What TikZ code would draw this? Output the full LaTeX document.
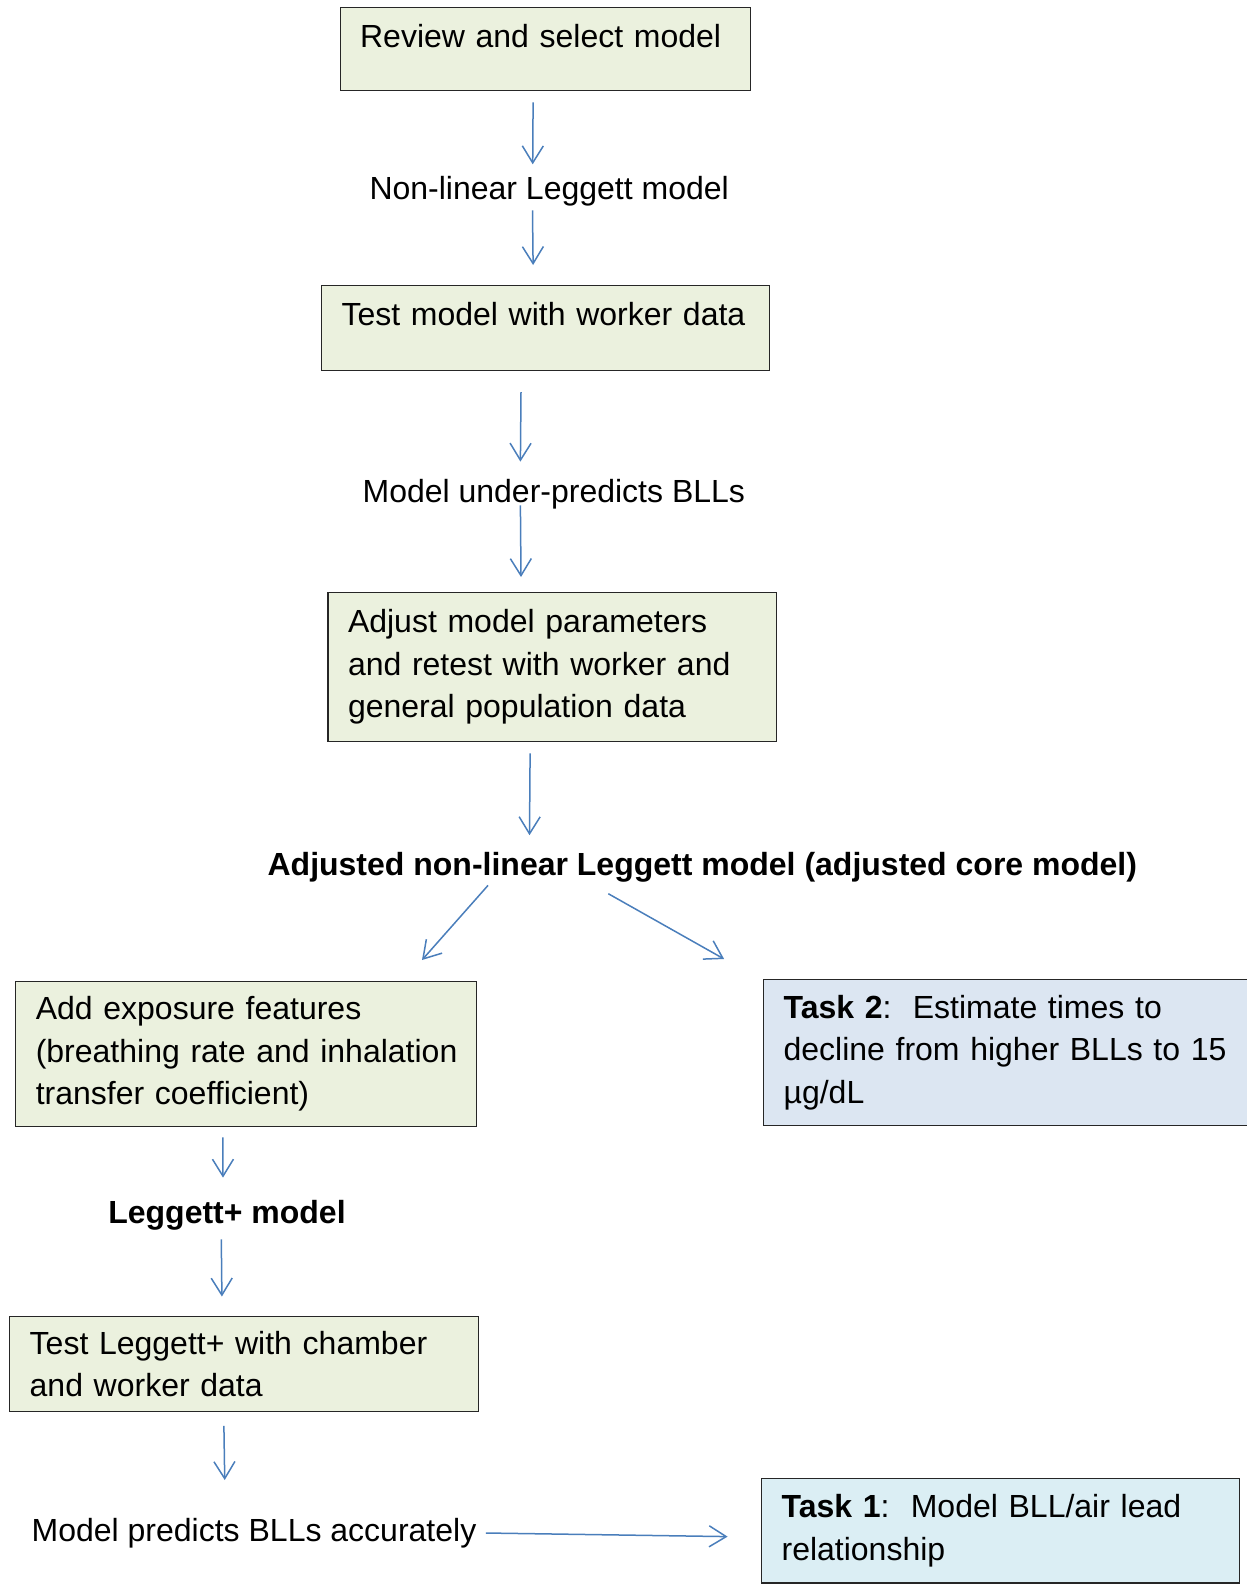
\documentclass[tikz,border=0pt]{standalone}
\usepackage{fontspec}
\setmainfont{Liberation Sans}
\usetikzlibrary{arrows.meta}
\definecolor{boxgreen}{RGB}{235,241,222}
\definecolor{boxblue}{RGB}{220,230,242}
\definecolor{boxcyan}{RGB}{219,238,244}
\definecolor{arrowblue}{RGB}{74,126,187}
\begin{document}
\begin{tikzpicture}[x=0.5pt,y=-0.5pt,
    font=\fontsize{16}{21.2}\selectfont,
    box/.style={draw=black!85,line width=0.6pt,fill=boxgreen,anchor=north west,
      align=left,inner xsep=10pt,inner ysep=4pt},
    topbox/.style={box,inner ysep=8.1pt,text height=11.6pt},
    lbl/.style={inner sep=0pt,text height=11.5pt,text depth=3.5pt},
    arr/.style={draw=arrowblue,line width=0.75pt,-{Straight Barb[length=8.5pt,width=10.5pt]}}]
    \useasboundingbox (0,0) rectangle (1247,1585);
    % main line
    \node[topbox,text width=185pt,text depth=13.7pt] (review) at (339.5,7.1) {Review and select model};
    \node[lbl] (nonlin) at (549.2,191) {Non-linear Leggett model};
    \node[topbox,text width=204pt,text depth=14.7pt] (test) at (321,285) {Test model with worker data};
    \node[lbl] (under) at (553.8,494) {Model under-predicts BLLs};
    \node[box,text width=204.3pt,minimum height=74.4pt] (adjust) at (327.4,592)
      {Adjust model parameters\\and retest with worker and\\general population data};
    \node[lbl,font=\fontsize{16}{21.2}\selectfont\bfseries] (core) at (702.3,867)
      {Adjusted non-linear Leggett model (adjusted core model)};
    % left branch
    \node[box,text width=210.4pt,minimum height=72.4pt] (addexp) at (15.2,981)
      {Add exposure features\\\mbox{(breathing rate and inhalation}\\transfer coefficient)};
    \node[lbl,font=\fontsize{16}{21.2}\selectfont\bfseries] (leggett) at (227,1215.6) {Leggett+ model};
    \node[box,text width=214.5pt,minimum height=47.5pt] (testplus) at (9.1,1315.7)
      {Test Leggett+ with chamber\\and worker data};
    \node[lbl,anchor=west] (predicts) at (31.3,1533) {Model predicts BLLs accurately};
    % tasks
    \node[box,fill=boxblue,text width=222.5pt,minimum height=73pt] (task2) at (763,979)
      {\textbf{Task 2}:\ \ Estimate times to\\decline from higher BLLs to 15\\µg/dL};
    \node[box,fill=boxcyan,text width=219pt,minimum height=52.2pt] (task1) at (761,1478)
      {\textbf{Task 1}:\ \ Model BLL/air lead\\relationship};
    % arrows
    \foreach \a/\xa/\sa/\b/\xb/\sb in {review/-6/-5.5/nonlin/-8.25/5.65,
        nonlin/-8.35/-2/test/-6.25/10, test/-12.3/-10.5/under/-16.7/8.5,
        under/-16.7/2/adjust/-15.65/7.5, adjust/-11.1/-5.65/core/-86.4/8.2,
        addexp/-11.65/-5.15/leggett/-2/11.3, leggett/-2.85/-4.2/testplus/-11.15/9.6,
        testplus/-10.15/-7/predicts/-14.65/18.8} {
      \draw[arr] ([xshift=\xa pt,yshift=\sa pt]\a.south) -- ([xshift=\xb pt,yshift=\sb pt]\b.north);
    }
    \draw[arr] ([xshift=-107.15pt,yshift=-1.5pt]core.south) -- ([xshift=87.9pt,yshift=10.5pt]addexp.north);
    \draw[arr] ([xshift=-47pt,yshift=-5.65pt]core.south) -- ([xshift=-141pt,yshift=10pt]task2.north);
    \draw[arr] ([xshift=4.5pt]predicts.east) -- ([xshift=-16.7pt,yshift=-2.9pt]task1.west);
\end{tikzpicture}
\end{document}
